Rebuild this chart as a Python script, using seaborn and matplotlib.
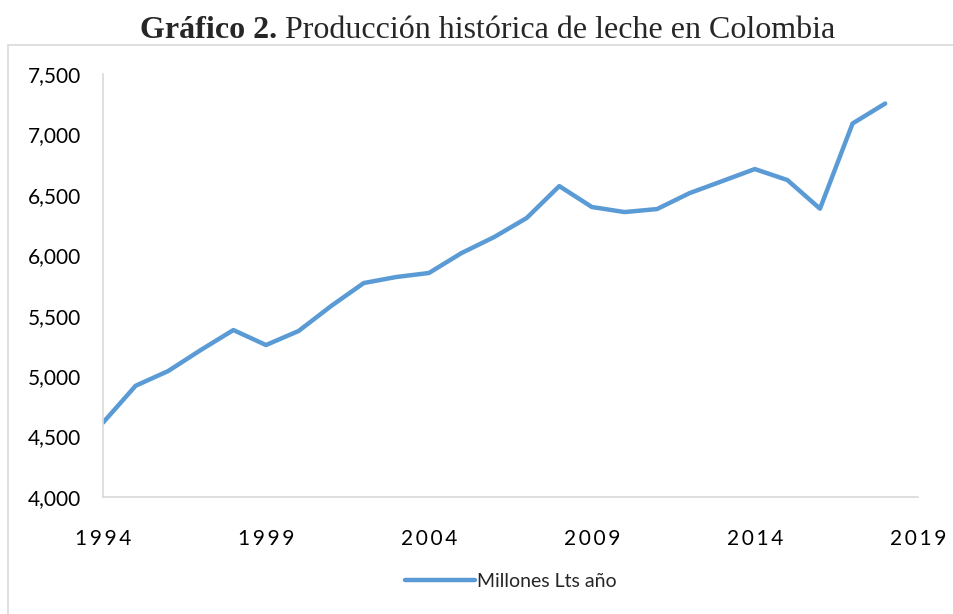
import matplotlib
matplotlib.use("Agg")
import matplotlib.pyplot as plt
import seaborn as sns
import pandas as pd
from matplotlib.ticker import FuncFormatter, MultipleLocator, FixedLocator
from matplotlib.patches import Rectangle

years = list(range(1994, 2019))
production = [4615, 4920, 5042, 5216, 5381, 5257, 5373, 5580, 5770, 5820,
              5853, 6018, 6150, 6308, 6572, 6399, 6357, 6382, 6514, 6613,
              6713, 6622, 6385, 7090, 7255]
x_ticks = [1994, 1999, 2004, 2009, 2014, 2019]
series_name = "Millones Lts año"
title_bold = "Gráfico 2."
title_rest = " Producción histórica de leche en Colombia"

df = pd.DataFrame({"Año": years, series_name: production})

sns.set_theme(style="white")
plt.rcParams["font.family"] = ["Lato", "DejaVu Sans"]

fig = plt.figure(figsize=(9.54, 6.14), dpi=100)
ax = fig.add_axes([0.108, 0.1906, 0.854, 0.689])

sns.lineplot(data=df, x="Año", y=series_name, ax=ax, color="#5B9BD5",
             linewidth=3.2, label=series_name)

ax.set_xlim(1994, 2019)
ax.set_ylim(4000, 7500)
ax.xaxis.set_major_locator(FixedLocator(x_ticks))
ax.yaxis.set_major_locator(MultipleLocator(500))
ax.yaxis.set_major_formatter(FuncFormatter(lambda v, p: f"{int(v):,}"))
ax.xaxis.set_major_formatter(FuncFormatter(lambda v, p: "\u2009".join(str(int(v)))))
ax.tick_params(axis="y", length=0, labelsize=15, colors="#000000", pad=16)
ax.tick_params(axis="x", length=0, labelsize=15, colors="#000000", pad=23)
ax.set_xlabel("")
ax.set_ylabel("")
for s in ["top", "right"]:
    ax.spines[s].set_visible(False)
for s in ["left", "bottom"]:
    ax.spines[s].set_color("#d9d9d9")
    ax.spines[s].set_linewidth(1.2)

leg = ax.legend(loc="center", bbox_to_anchor=(0.5, -0.2), frameon=False,
                fontsize=14, handlelength=3.6, handletextpad=0.1)

# outer chart border
fig.patches.append(Rectangle((8 / 954, -0.05), 1.2, 1 - 45 / 614 + 0.05,
                             transform=fig.transFigure, fill=False,
                             edgecolor="#d9d9d9", linewidth=1.2))

# title with bold prefix
fig.canvas.draw()
r = fig.canvas.get_renderer()
tfont = ["Liberation Serif", "DejaVu Serif"]
t1 = fig.text(0, 1 - 30 / 614, title_bold, fontsize=23, fontweight="bold",
              family=tfont, va="center", ha="left")
t2 = fig.text(0, 1 - 30 / 614, title_rest, fontsize=23, family=tfont,
              va="center", ha="left")
w1 = t1.get_window_extent(r).width
w2 = t2.get_window_extent(r).width
x0 = 488 - (w1 + w2) / 2
t1.set_x(x0 / 954)
t2.set_x((x0 + w1) / 954)

fig.savefig("out.png", dpi=100)
